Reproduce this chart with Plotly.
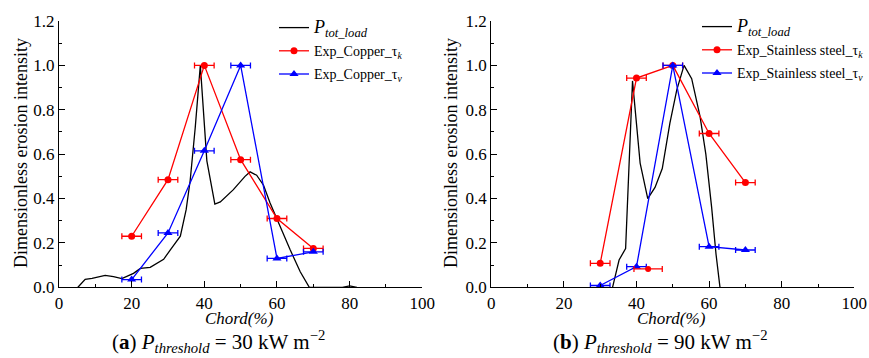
import plotly.graph_objects as go

# ---------------- data ----------------
chord_ticks = [0, 20, 40, 60, 80, 100]
err_half = 2.7

# (a) Copper, P_threshold = 30 kW m-2
cu_x = [20, 30, 40, 50, 60, 70]
cu_tau_k = [0.23, 0.485, 1.0, 0.575, 0.31, 0.175]
cu_tau_v = [0.035, 0.245, 0.615, 1.0, 0.13, 0.16]
cu_load_x = [5.2, 7.2, 9.1, 12.7, 15, 17.3, 20.5, 22.4, 25.1, 28.8, 30.6, 33.4, 35, 36.1,
             37.5, 38.9, 40.7, 42.9, 44.4, 48, 51.2, 52.6, 54.4, 56.3, 58.1, 60.9, 63.6,
             66.4, 68.9, 78, 80, 82]
cu_load_y = [0, 0.036, 0.04, 0.054, 0.048, 0.039, 0.063, 0.085, 0.09, 0.126, 0.168, 0.23,
             0.35, 0.48, 0.72, 1.0, 0.57, 0.375, 0.385, 0.44, 0.5, 0.52, 0.505, 0.46, 0.38,
             0.27, 0.17, 0.07, 0, 0, 0.006, 0]

# (b) Stainless steel, P_threshold = 90 kW m-2
ss_x = [30, 40, 50, 60, 70]
ss_tau_k = [0.108, 0.943, 1.0, 0.693, 0.472]
ss_tau_v = [0.008, 0.093, 1.0, 0.183, 0.168]
ss_extra_x = [43.2]
ss_extra_y = [0.083]
ss_extra_err = [3.9]
ss_load_x = [33.4, 35.2, 37, 38.9, 41, 43.1, 45.1, 47.1, 49.2, 51.1, 53.1, 55.2, 57.5,
             59.1, 60.7, 61.9, 63]
ss_load_y = [0, 0.123, 0.175, 0.93, 0.56, 0.40, 0.45, 0.535, 0.74, 0.89, 1.0, 0.94, 0.77,
             0.6, 0.36, 0.15, 0]

# ---------------- figure ----------------
W, H = 869, 358
FONT = "Liberation Serif"
RED, BLUE = "#ff0000", "#0000ff"

fig = go.Figure()

load_name = '<span style="font-size:18px"><i>P</i><sub><i>tot_load</i></sub></span>'

def add_panel(xa, ya, leg, load_x, load_y, x, yk, yv, name_k, name_v):
    fig.add_trace(go.Scatter(x=load_x, y=load_y, mode="lines", name=load_name,
                             line=dict(color="black", width=1.3), xaxis=xa, yaxis=ya,
                             legend=leg, legendgroup=leg + "a"))
    fig.add_trace(go.Scatter(x=x, y=yk, mode="lines+markers", name=name_k,
                             line=dict(color=RED, width=1.3),
                             marker=dict(symbol="circle", size=7, color=RED),
                             error_x=dict(type="constant", value=err_half, color=RED,
                                          thickness=1.3, width=3),
                             xaxis=xa, yaxis=ya, legend=leg, legendgroup=leg + "b"))
    fig.add_trace(go.Scatter(x=x, y=yv, mode="lines+markers", name=name_v,
                             line=dict(color=BLUE, width=1.3),
                             marker=dict(symbol="triangle-up", size=8, color=BLUE),
                             error_x=dict(type="constant", value=err_half, color=BLUE,
                                          thickness=1.3, width=3),
                             xaxis=xa, yaxis=ya, legend=leg, legendgroup=leg + "c"))

add_panel("x", "y", "legend", cu_load_x, cu_load_y, cu_x, cu_tau_k, cu_tau_v,
          "Exp_Copper_τ<sub><i>k</i></sub>", "Exp_Copper_τ<sub><i>v</i></sub>")
add_panel("x2", "y2", "legend2", ss_load_x, ss_load_y, ss_x, ss_tau_k, ss_tau_v,
          "Exp_Stainless steel_τ<sub><i>k</i></sub>", "Exp_Stainless steel_τ<sub><i>v</i></sub>")

fig.add_trace(go.Scatter(x=ss_extra_x, y=ss_extra_y, mode="markers",
                         marker=dict(size=0, color=RED), showlegend=False,
                         error_x=dict(type="data", array=ss_extra_err, color=RED,
                                      thickness=1.3, width=3),
                         xaxis="x2", yaxis="y2"))

ytop, ybot = 21, 287.3
ydom = [1 - ybot / H, 1 - ytop / H]

def xaxis(dom, anchor):
    return dict(domain=dom, anchor=anchor, range=[0, 100], tickvals=chord_ticks,
                ticks="inside", ticklen=6, tickwidth=1.2, tickcolor="black",
                showline=True, linecolor="black", linewidth=1.3, showgrid=False,
                zeroline=False, tickfont=dict(family=FONT, size=17, color="black"),
                minor=dict(dtick=10, ticks="inside", ticklen=3, tickwidth=1.2,
                           tickcolor="black", showgrid=False),
                fixedrange=True)

def yaxis(dom, anchor):
    return dict(domain=dom, anchor=anchor, range=[0, 1.2], dtick=0.2, tick0=0,
                tickformat=".1f", ticks="inside", ticklen=6, tickwidth=1.2,
                tickcolor="black", showline=True, linecolor="black", linewidth=1.3,
                showgrid=False, zeroline=False,
                tickfont=dict(family=FONT, size=17, color="black"),
                minor=dict(dtick=0.1, ticks="inside", ticklen=3, tickwidth=1.2,
                           tickcolor="black", showgrid=False),
                fixedrange=True)

x1 = [59 / W, 422.3 / W]
x2 = [491.3 / W, 854.3 / W]

fig.update_layout(
    width=W, height=H,
    margin=dict(l=0, r=0, t=0, b=0, autoexpand=False),
    paper_bgcolor="white", plot_bgcolor="white",
    font=dict(family=FONT, color="black"),
    xaxis=xaxis(x1, "y"), yaxis=yaxis(ydom, "x"),
    xaxis2=xaxis(x2, "y2"), yaxis2=yaxis(ydom, "x2"),
    legend=dict(x=274 / W, y=1 - 12 / H, xanchor="left", yanchor="top",
                bgcolor="rgba(0,0,0,0)", font=dict(family=FONT, size=14, color="black"),
                itemwidth=30, tracegroupgap=2),
    legend2=dict(x=697 / W, y=1 - 11 / H, xanchor="left", yanchor="top",
                 bgcolor="rgba(0,0,0,0)", font=dict(family=FONT, size=14, color="black"),
                 itemwidth=30, tracegroupgap=2),
    showlegend=True,
)

ann = []
for cx in [21, 451]:
    ann.append(dict(text="Dimensionless erosion intensity", x=cx / W, y=1 - 153 / H,
                    xref="paper", yref="paper", showarrow=False, textangle=-90,
                    font=dict(family=FONT, size=18, color="black"),
                    xanchor="center", yanchor="middle"))
for cx in [240, 671]:
    ann.append(dict(text="<i>Chord(%)</i>", x=cx / W, y=1 - 318 / H, xref="paper",
                    yref="paper", showarrow=False,
                    font=dict(family=FONT, size=17, color="black"),
                    xanchor="center", yanchor="middle"))
caps = [(218, "(<b>a</b>) <i>P</i><sub><i>threshold</i></sub> = 30 kW m<sup>−2</sup>"),
        (660, "(<b>b</b>) <i>P</i><sub><i>threshold</i></sub> = 90 kW m<sup>−2</sup>")]
for cx, t in caps:
    ann.append(dict(text=t, x=cx / W, y=1 - 341 / H, xref="paper", yref="paper",
                    showarrow=False, font=dict(family=FONT, size=21, color="black"),
                    xanchor="center", yanchor="middle"))
fig.update_layout(annotations=ann)

fig.write_html("out.html", config={"displayModeBar": False},
               post_script="document.body.style.margin='0';document.body.style.padding='0';")
